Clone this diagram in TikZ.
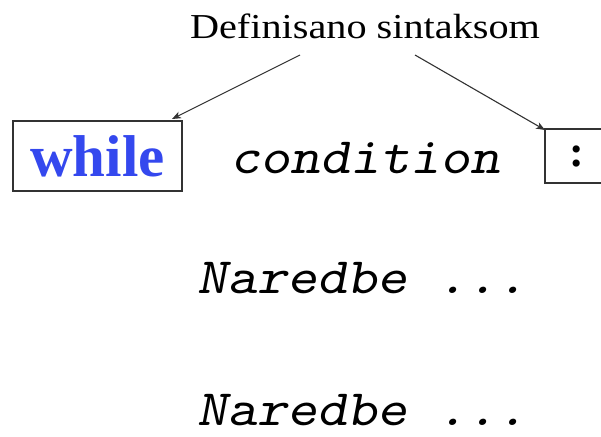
\documentclass[tikz,border=0pt]{standalone}
\usepackage{fontspec}
\setmainfont{Liberation Serif}
\newfontfamily\codefont{lmmonoslant10-regular.otf}
\usetikzlibrary{arrows.meta}
\definecolor{kwblue}{RGB}{52,72,238}
\definecolor{linegray}{RGB}{50,50,50}
\newcommand{\codewide}[1]{\scalebox{1.12}[1]{#1}}
\tikzset{
  kwbox/.style={draw=linegray, line width=1.6pt, inner sep=0pt},
  arr/.style={draw=linegray, line width=1.1pt, -{Stealth[length=9pt,width=7pt,inset=2.5pt]}},
  codetext/.style={anchor=base west, inner sep=0pt, font=\fontsize{51}{56}\selectfont\codefont},
}
\begin{document}
\begin{tikzpicture}[x=1pt,y=-1pt]
\useasboundingbox (0,0) rectangle (601,436);
\node[anchor=base, inner sep=0pt, font=\fontsize{35}{40}\selectfont] (def) at (365,38) {\scalebox{1.15}[1]{Definisano sintaksom}};
\node[kwbox, minimum width=169pt, minimum height=70pt, text=kwblue, font=\fontsize{59}{64}\selectfont\bfseries] (wbox) at (97.5,156) {while};
\node[kwbox, minimum width=64pt, minimum height=54pt, font=\fontsize{44}{50}\selectfont\bfseries] (cbox) at (577,156) {:};
\node[codetext] (cond) at (230,173) {\codewide{condition}};
\node[codetext] (st1) at (197,293) {\codewide{Naredbe ...}};
\node[codetext] (st2) at (197,425) {\codewide{Naredbe ...}};
\coordinate (s1) at (300,55);
\coordinate (s2) at (415,55);
\coordinate (t1) at (172,119);
\coordinate (t2) at (545,130);
\draw[arr] (s1) -- (t1);
\draw[arr] (s2) -- (t2);
\end{tikzpicture}
\end{document}
